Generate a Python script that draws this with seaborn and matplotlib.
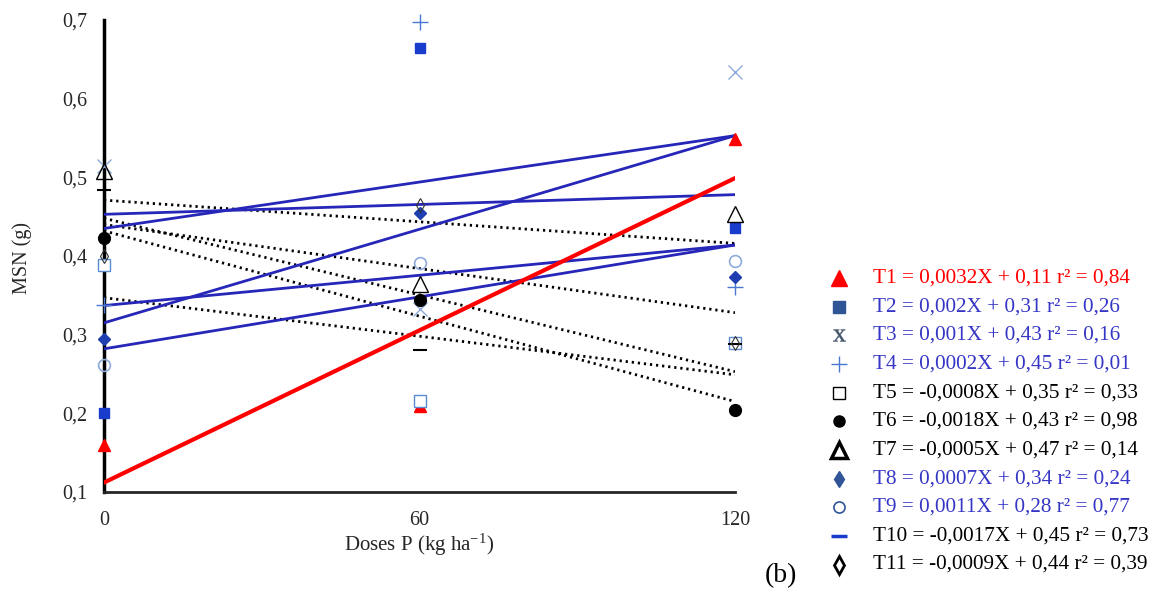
import numpy as np
import pandas as pd
import seaborn as sns
import matplotlib.pyplot as plt
from matplotlib.lines import Line2D
from matplotlib.ticker import FuncFormatter

sns.set_theme(style="white")
plt.rcParams['font.family'] = ['Liberation Serif', 'DejaVu Serif']
plt.rcParams['mathtext.default'] = 'regular'

# doses of P and MSN values
doses = [0, 60, 120]
t1 = [0.160, 0.209, 0.549]
t2 = [0.200, 0.665, 0.435]
t3 = [0.515, 0.333, 0.634]
t4 = [0.338, 0.697, 0.361]
t5 = [0.389, 0.216, 0.290]
t6 = [0.423, 0.344, 0.204]
t7 = [0.508, 0.365, 0.454]
t8 = [0.295, 0.455, 0.373]
t9 = [0.261, 0.391, 0.394]
t10 = [0.484, 0.281, 0.288]
t11 = [0.400, 0.465, 0.290]
series = [t1, t2, t3, t4, t5, t6, t7, t8, t9, t10, t11]

# trend line ends (at 0 and 120)
fit_x = [0, 120]
fit_start = [0.112, 0.315, 0.435, 0.453, 0.347, 0.432, 0.471, 0.337, 0.282, 0.448, 0.440]
fit_end = [0.499, 0.553, 0.553, 0.478, 0.249, 0.215, 0.416, 0.414, 0.414, 0.253, 0.328]

labels = [
    "T1 = 0,0032X + 0,11 r² = 0,84",
    "T2 = 0,002X + 0,31 r² = 0,26",
    "T3 = 0,001X + 0,43 r² = 0,16",
    "T4 = 0,0002X + 0,45 r² = 0,01",
    "T5 = -0,0008X + 0,35 r² = 0,33",
    "T6 = -0,0018X + 0,43 r² = 0,98",
    "T7 = -0,0005X + 0,47 r² = 0,14",
    "T8 = 0,0007X + 0,34 r² = 0,24",
    "T9 = 0,0011X + 0,28 r² = 0,77",
    "T10 = -0,0017X + 0,45 r² = 0,73",
    "T11 = -0,0009X + 0,44 r² = 0,39",
]
y_ticks = [0.1, 0.2, 0.3, 0.4, 0.5, 0.6, 0.7]
x_ticks = [0, 60, 120]

red = '#ff0000'
blue_line = '#2626b8'
blue_txt = '#3636c6'
text_colors = [red, blue_txt, blue_txt, blue_txt, 'black', 'black', 'black',
               blue_txt, blue_txt, 'black', 'black']

# kind of trend line per treatment
line_styles = ['red', 'blue', 'blue', 'blue', 'dot', 'dot', 'dot', 'blue', 'blue', 'dot', 'dot']

# marker styles in the plot: marker, size, face, edge, edge width
plot_markers = [
    ('^', 9, red, red, 1),
    ('s', 7.5, '#1a3ccc', '#1a3ccc', 1),
    ('x', 10, '#8eaadb', '#8eaadb', 1),
    ('+', 11, '#4a78d0', '#4a78d0', 1),
    ('s', 8, 'white', '#5b8bd0', 1),
    ('o', 8.5, 'black', 'black', 1),
    ('^', 12, 'none', 'black', 1),
    ('D', 6, '#1f3fb0', '#1f3fb0', 1),
    ('o', 8.5, 'none', '#8eaadb', 1.2),
    ('_', 10, 'black', 'black', 1.5),
    ('d', 7, 'none', '#333333', 0.8),
]
# marker styles in the legend
legend_markers = [
    ('^', 12, red, red, 1),
    ('s', 8, '#2f5597', '#2f5597', 1),
    ('$\\mathregular{x}$', 9, '#44546a', '#44546a', 0.3),
    ('+', 11, '#4a78d0', '#4a78d0', 1),
    ('s', 8, 'white', 'black', 1),
    ('o', 8, 'black', 'black', 1),
    ('^', 11, 'white', 'black', 2.5),
    ('d', 8, '#2f5597', '#2f5597', 1),
    ('o', 8, 'white', '#2f5597', 1.2),
    ('_', 11, '#1a3ccc', '#1a3ccc', 2.5),
    ('d', 9, 'white', 'black', 2),
]

W, H = 1159, 591
fig = plt.figure(figsize=(W / 100, H / 100), dpi=100)
ax = fig.add_axes([104 / W, 99 / H, 631 / W, 472 / H])

# trend lines: dotted first, then blue, red on top
for kind in ['dot', 'blue', 'red']:
    for s, e, k in zip(fit_start, fit_end, line_styles):
        if k != kind:
            continue
        if k == 'dot':
            sns.lineplot(x=fit_x, y=[s, e], ax=ax, color='black', lw=2,
                         linestyle=(0, (0.8, 1.4)), zorder=2)
        elif k == 'blue':
            sns.lineplot(x=fit_x, y=[s, e], ax=ax, color=blue_line, lw=2, zorder=3)
        else:
            sns.lineplot(x=fit_x, y=[s, e], ax=ax, color=red, lw=3, zorder=3)

for vals, (m, ms, fc, ec, mew) in zip(series, plot_markers):
    ax.plot(doses, vals, linestyle='none', marker=m, ms=ms, mfc=fc, mec=ec,
            mew=mew, clip_on=False, zorder=5)

ax.set_xlim(0, 120)
ax.set_ylim(0.1, 0.7)
ax.set_xticks(x_ticks)
ax.set_yticks(y_ticks)
ax.yaxis.set_major_formatter(FuncFormatter(lambda v, p: f"{v:.1f}".replace('.', ',')))
ax.tick_params(length=0, labelsize=14.5, colors='#262626')
ax.tick_params(axis='y', pad=12)
ax.tick_params(axis='x', pad=14)
sns.despine(ax=ax)
ax.spines['left'].set_color('black')
ax.spines['left'].set_linewidth(2.5)
ax.spines['bottom'].set_color('#262626')
ax.spines['bottom'].set_linewidth(2)
ax.set_xlabel('')
ax.set_ylabel('')

fig.text(22 / W, 1 - 258 / H, 'MSN (g)', rotation=90, ha='center', va='center',
         fontsize=14.5, color='#262626')
fig.text(419 / W, 1 - 545 / H, 'Doses P (kg ha$^{-1}$)', ha='center', va='center',
         fontsize=15, color='#262626')
fig.text(781 / W, 1 - 576 / H, '(b)', ha='center', va='center', fontsize=20, color='black')

# legend drawn entry by entry
for i, (lab, col, (m, ms, fc, ec, mew)) in enumerate(zip(labels, text_colors, legend_markers)):
    yy = 1 - (278 + i * 28.65) / H
    fig.add_artist(Line2D([839 / W], [yy], transform=fig.transFigure, linestyle='none',
                          marker=m, ms=ms, mfc=fc, mec=ec, mew=mew))
    fig.text(873 / W, yy, lab, ha='left', va='center', fontsize=15.3, color=col)

fig.savefig('out.png', dpi=100)
